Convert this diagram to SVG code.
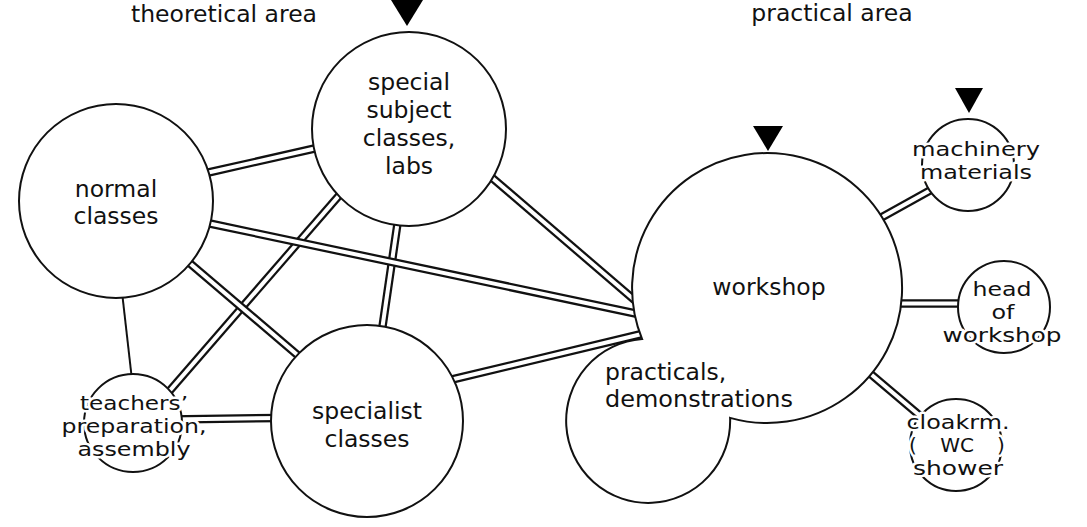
<svg xmlns="http://www.w3.org/2000/svg" xmlns:xlink="http://www.w3.org/1999/xlink" width="1087" height="527" viewBox="0 0 1087 527">
<style>
.bg{fill:#fff}
.n{fill:#fff;stroke:#111;stroke-width:2}
.t{font-family:"DejaVu Sans","Liberation Sans",sans-serif;font-size:23.5px;fill:#111;text-anchor:middle}
.sm{font-size:20px}
.s{text-anchor:start}
.h{stroke:#fff;stroke-width:5;stroke-linejoin:round;paint-order:stroke}
.co{stroke:#111;stroke-width:8.5;fill:none}
.ci{stroke:#fff;stroke-width:4;fill:none}
.single{stroke:#111;stroke-width:2;fill:none}
.tri{fill:#000}
</style>
<defs>
<line id="c1" x1="204" y1="173.5" x2="319" y2="147.5"/>
<line id="c2" x1="205" y1="222.5" x2="645" y2="315.5"/>
<line id="c3" x1="186" y1="260" x2="301" y2="358"/>
<line id="c5" x1="166" y1="395" x2="343" y2="191"/>
<line id="c6" x1="170" y1="419.5" x2="280" y2="418"/>
<line id="c7" x1="398" y1="220" x2="382" y2="330"/>
<line id="c8" x1="490" y1="176" x2="645" y2="309"/>
<line id="c9" x1="452" y1="379.5" x2="648" y2="332.5"/>
<line id="c10" x1="875" y1="221" x2="938" y2="186"/>
<line id="c11" x1="895" y1="303.5" x2="965" y2="303.5"/>
<line id="c12" x1="866" y1="370" x2="925" y2="420"/>
</defs>
<rect class="bg" x="0" y="0" width="1087" height="527"/>
<text class="t" x="224" y="22">theoretical area</text>
<text class="t" x="832" y="21">practical area</text>
<g id="connectors">
<line class="single" x1="122" y1="292" x2="132" y2="380"/>
<use xlink:href="#c1" class="co"/><use xlink:href="#c1" class="ci"/>
<use xlink:href="#c5" class="co"/><use xlink:href="#c5" class="ci"/>
<use xlink:href="#c3" class="co"/><use xlink:href="#c3" class="ci"/>
<use xlink:href="#c7" class="co"/><use xlink:href="#c7" class="ci"/>
<use xlink:href="#c2" class="co"/><use xlink:href="#c2" class="ci"/>
<use xlink:href="#c6" class="co"/><use xlink:href="#c6" class="ci"/>
<use xlink:href="#c8" class="co"/><use xlink:href="#c8" class="ci"/>
<use xlink:href="#c9" class="co"/><use xlink:href="#c9" class="ci"/>
<use xlink:href="#c10" class="co"/><use xlink:href="#c10" class="ci"/>
<use xlink:href="#c11" class="co"/><use xlink:href="#c11" class="ci"/>
<use xlink:href="#c12" class="co"/><use xlink:href="#c12" class="ci"/>
</g>
<g id="normal-classes">
<circle class="n" cx="116" cy="201" r="97"/>
<text class="t" x="116" y="197">normal</text>
<text class="t" x="116" y="224">classes</text>
</g>
<g id="special-subject">
<circle class="n" cx="409" cy="129" r="97"/>
<polygon class="tri" points="391,0 423,0 407,26"/>
<text class="t" x="409" y="90">special</text>
<text class="t" x="409" y="118">subject</text>
<text class="t" x="409" y="146">classes,</text>
<text class="t" x="409" y="174">labs</text>
</g>
<g id="specialist-classes">
<circle class="n" cx="367" cy="421" r="96"/>
<text class="t" x="367" y="419">specialist</text>
<text class="t" x="367" y="447">classes</text>
</g>
<g id="teachers">
<circle class="n" cx="133" cy="423" r="49"/>
<text class="t sm h" x="134" y="410" textLength="108" lengthAdjust="spacingAndGlyphs">teachers’</text>
<text class="t sm h" x="134" y="433" textLength="145" lengthAdjust="spacingAndGlyphs">preparation,</text>
<text class="t sm h" x="134" y="456" textLength="113" lengthAdjust="spacingAndGlyphs">assembly</text>
</g>
<g id="workshop">
<path class="n" d="M642.1 339.1 A135 135 0 1 1 730.1 417.9 A82 82 0 1 1 642.1 339.1 Z"/>
<polygon class="tri" points="753,126 783,126 768,151"/>
<text class="t" x="769" y="295">workshop</text>
<text class="t s" x="605" y="380">practicals,</text>
<text class="t s" x="605" y="407" textLength="188" lengthAdjust="spacingAndGlyphs">demonstrations</text>
</g>
<g id="machinery">
<circle class="n" cx="968" cy="165" r="46"/>
<polygon class="tri" points="955,88 983,88 969,113"/>
<text class="t sm h" x="976" y="156" textLength="128" lengthAdjust="spacingAndGlyphs">machinery</text>
<text class="t sm h" x="976" y="179" textLength="112" lengthAdjust="spacingAndGlyphs">materials</text>
</g>
<g id="head-of-workshop">
<circle class="n" cx="1004" cy="307" r="46"/>
<text class="t sm h" x="1002" y="296" textLength="59" lengthAdjust="spacingAndGlyphs">head</text>
<text class="t sm h" x="1003" y="319" textLength="23" lengthAdjust="spacingAndGlyphs">of</text>
<text class="t sm h" x="1002" y="342" textLength="119" lengthAdjust="spacingAndGlyphs">workshop</text>
</g>
<g id="cloakroom">
<circle class="n" cx="956" cy="445" r="46"/>
<text class="t sm h" x="958" y="429" textLength="103" lengthAdjust="spacingAndGlyphs">cloakrm.</text>
<text class="t sm h" y="452"><tspan x="913">(</tspan><tspan x="957">WC</tspan><tspan x="1001">)</tspan></text>
<text class="t sm h" x="958" y="475" textLength="90" lengthAdjust="spacingAndGlyphs">shower</text>
</g>
</svg>
